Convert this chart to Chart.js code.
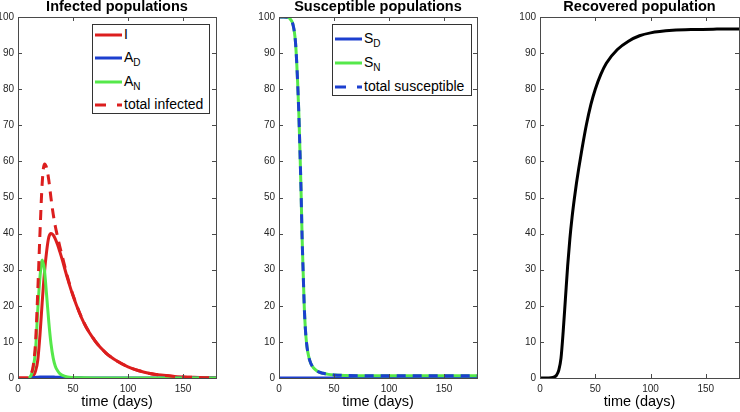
<!DOCTYPE html>
<html>
<head>
<meta charset="utf-8">
<script src="https://cdn.jsdelivr.net/npm/chart.js@4.4.0/dist/chart.umd.min.js"></script>
<style>
  body { margin: 0; background: #fff; font-family: "Liberation Sans", Arial, Helvetica, sans-serif; }
  #wrap { position: relative; width: 740px; height: 412px; overflow: hidden; }
  .panel { position: absolute; top: 0; height: 412px; }
  .ttl { position: absolute; top: -2px; font-weight: bold; font-size: 14.5px; color: #000; text-align: center; white-space: nowrap; }
  .leg { position: absolute; border: 1px solid #333; background: #fff; box-sizing: border-box; }
  .row { position: absolute; left: 2px; height: 16px; font-size: 14px; color: #000; white-space: nowrap; }
  .row svg { position: absolute; left: 0; top: 5px; }
  .row span { position: absolute; left: 29px; top: -1px; }
  sub { font-size: 10px; vertical-align: -4px; line-height: 0; }
</style>
</head>
<body>
<div id="wrap">
  <div class="panel" style="left:0;width:222px"><canvas id="c1"></canvas></div>
  <div class="panel" style="left:250px;width:233px"><canvas id="c2"></canvas></div>
  <div class="panel" style="left:511px;width:229px"><canvas id="c3"></canvas></div>

  <div class="ttl" style="left:18px;width:198px">Infected populations</div>
  <div class="ttl" style="left:279px;width:198px">Susceptible populations</div>
  <div class="ttl" style="left:540px;width:199px">Recovered population</div>

  <div class="leg" style="left:92px;top:24px;width:118px;height:90px">
    <div class="row" style="top:2px"><svg width="28" height="6"><line x1="0" y1="3" x2="27" y2="3" stroke="#dc1e1e" stroke-width="3"/></svg><span>I</span></div>
    <div class="row" style="top:25px"><svg width="28" height="6"><line x1="0" y1="3" x2="27" y2="3" stroke="#1c3fcf" stroke-width="3"/></svg><span>A<sub>D</sub></span></div>
    <div class="row" style="top:49px"><svg width="28" height="6"><line x1="0" y1="3" x2="27" y2="3" stroke="#55e84a" stroke-width="3"/></svg><span>A<sub>N</sub></span></div>
    <div class="row" style="top:72px"><svg width="28" height="6"><line x1="0" y1="3" x2="27" y2="3" stroke="#dc1e1e" stroke-width="3" stroke-dasharray="11 11"/></svg><span>total infected</span></div>
  </div>
  <div class="leg" style="left:332px;top:24px;width:140px;height:72px">
    <div class="row" style="top:6px"><svg width="28" height="6"><line x1="0" y1="3" x2="27" y2="3" stroke="#1c3fcf" stroke-width="3"/></svg><span>S<sub>D</sub></span></div>
    <div class="row" style="top:30px"><svg width="28" height="6"><line x1="0" y1="3" x2="27" y2="3" stroke="#55e84a" stroke-width="3"/></svg><span>S<sub>N</sub></span></div>
    <div class="row" style="top:54px"><svg width="28" height="6"><line x1="0" y1="3" x2="27" y2="3" stroke="#1c3fcf" stroke-width="3" stroke-dasharray="11 11"/></svg><span>total susceptible</span></div>
  </div>
</div>
<script>
// ---- data ----
const xTicks = [0, 50, 100, 150];
const yTicks = [0, 10, 20, 30, 40, 50, 60, 70, 80, 90, 100];

// infected panel
const days1 = [0, 5, 10, 12, 14, 16, 18, 20, 22, 24, 26, 28, 30, 32, 34, 36, 38, 40, 45, 50, 60, 70, 80, 90, 100, 110, 120, 130, 140, 150, 160, 170, 180];
const infI  = [0, 0, 0, 0.2, 0.6, 2, 5, 12, 21, 29, 35, 39, 40, 39.6, 38.5, 36.9, 35, 33, 27.6, 22.8, 15.2, 10.3, 6.9, 4.7, 3.1, 2, 1.25, 0.8, 0.5, 0.3, 0.18, 0.1, 0.06];
const infAD = [null, null, 0, 0.05, 0.1, 0.15, 0.2, 0.25, 0.3, 0.3, 0.3, 0.3, 0.28, 0.26, 0.24, 0.2, 0.18, 0.15, 0.1, 0.06, 0.03, 0.01, 0.01, 0, 0, 0, 0, 0, 0, 0, 0, 0, 0];
const infAN = [null, null, 0, 0.8, 3, 8, 19, 28, 32.7, 30, 23, 15.5, 9.5, 5.5, 3.2, 2, 1.2, 0.8, 0.3, 0.15, 0.05, 0.02, 0.02, 0.01, 0.01, 0, 0, 0, 0, 0, 0, 0, 0];
const infTotal = [0, 0, 0, 1.1, 3.7, 10.2, 24.2, 40.3, 54, 59.3, 58.3, 54.8, 49.8, 45.4, 41.9, 39.1, 36.4, 34, 28, 23, 15.3, 10.3, 6.9, 4.7, 3.1, 2, 1.25, 0.8, 0.5, 0.3, 0.18, 0.1, 0.06];

// susceptible panel
const days2 = [0, 4, 8, 10, 12, 13, 14, 15, 16, 17, 18, 19, 20, 21, 22, 23, 24, 25, 26, 28, 30, 33, 36, 40, 45, 50, 60, 80, 100, 130, 160, 180];
const susSD = [0, 0, 0, 0, 0, 0, 0, 0, 0, 0, 0, 0, 0, 0, 0, 0, 0, 0, 0, 0, 0, 0, 0, 0, 0, 0, 0, 0, 0, 0, 0, 0];
const susSN = [100, 100, 99.9, 99.5, 98.6, 97.5, 95.8, 93, 88, 81.5, 73.5, 63.5, 52.5, 39, 29, 19.5, 13.5, 9.8, 7.5, 4.8, 3.4, 2.3, 1.7, 1.3, 1, 0.85, 0.7, 0.6, 0.6, 0.6, 0.6, 0.6];
const susTotal = [100, 100, 99.9, 99.5, 98.6, 97.5, 95.8, 93, 88, 81.5, 73.5, 63.5, 52.5, 39, 29, 19.5, 13.5, 9.8, 7.5, 4.8, 3.4, 2.3, 1.7, 1.3, 1, 0.85, 0.7, 0.6, 0.6, 0.6, 0.6, 0.6];

// recovered panel
const days3 = [0, 5, 10, 13, 15, 17, 19, 21, 23, 25, 27, 29, 31, 33, 35, 38, 42, 46, 50, 55, 60, 70, 80, 90, 100, 120, 140, 160, 180];
const recR  = [0, 0, 0.05, 0.3, 0.8, 2.2, 5.5, 13, 22, 31, 38.5, 44.5, 49.5, 54, 58, 63.5, 70.2, 75.7, 80, 84.1, 87.2, 91, 93.3, 94.8, 95.6, 96.3, 96.55, 96.65, 96.7];

const RED = '#dc1e1e', BLUE = '#1c3fcf', GREEN = '#55e84a';
const FONT = '"Liberation Sans", Arial, Helvetica, sans-serif';

function pts(xs, ys) {
  return xs.map((x, i) => ({ x: x, y: ys[i] }));
}

function line(data, color, order, dash) {
  return {
    data: data,
    borderColor: color,
    borderWidth: 3,
    borderDash: dash || [],
    pointRadius: 0,
    cubicInterpolationMode: 'monotone',
    fill: false,
    order: order
  };
}

// box around the plot with inward ticks on all four sides
const boxTicks = {
  id: 'boxTicks',
  afterDraw(chart) {
    const ctx = chart.ctx, a = chart.chartArea;
    const xs = chart.scales.x, ys = chart.scales.y;
    ctx.save();
    ctx.strokeStyle = '#4a4a4a';
    ctx.lineWidth = 1;
    ctx.strokeRect(Math.round(a.left) + 0.5, Math.round(a.top) + 0.5, Math.round(a.right - a.left), Math.round(a.bottom - a.top));
    ctx.beginPath();
    xs.ticks.forEach(t => {
      const px = Math.round(xs.getPixelForValue(t.value)) + 0.5;
      ctx.moveTo(px, a.bottom); ctx.lineTo(px, a.bottom - 4);
      ctx.moveTo(px, a.top); ctx.lineTo(px, a.top + 4);
    });
    ys.ticks.forEach(t => {
      const py = Math.round(ys.getPixelForValue(t.value)) + 0.5;
      ctx.moveTo(a.left, py); ctx.lineTo(a.left + 4, py);
      ctx.moveTo(a.right, py); ctx.lineTo(a.right - 4, py);
    });
    ctx.stroke();
    ctx.restore();
  }
};

function makeChart(id, datasets, yWidth, padRight) {
  return new Chart(document.getElementById(id), {
    type: 'line',
    data: { datasets: datasets },
    options: {
      responsive: true,
      maintainAspectRatio: false,
      animation: false,
      devicePixelRatio: 1,
      layout: { padding: { top: 17, right: padRight, bottom: 0, left: 0 } },
      plugins: { legend: { display: false }, tooltip: { enabled: false } },
      scales: {
        x: {
          type: 'linear',
          min: 0, max: 180,
          grid: { display: false, drawTicks: false },
          border: { display: false },
          afterBuildTicks: s => { s.ticks = xTicks.map(v => ({ value: v })); },
          afterFit: s => { s.height = 34; },
          ticks: { padding: 5, color: '#262626', font: { family: FONT, size: 10 }, maxRotation: 0 },
          title: { display: true, text: 'time (days)', color: '#000', font: { family: FONT, size: 14.5 }, padding: { top: 0, bottom: 1 } }
        },
        y: {
          min: 0, max: 100,
          grid: { display: false, drawTicks: false },
          border: { display: false },
          afterBuildTicks: s => { s.ticks = yTicks.map(v => ({ value: v })); },
          afterFit: s => { s.width = yWidth; },
          ticks: { padding: 4, color: '#262626', font: { family: FONT, size: 10 } }
        }
      }
    },
    plugins: [boxTicks]
  });
}

makeChart('c1', [
  line(pts(days1, infI), RED, 3),
  line(pts(days1, infAD), BLUE, 2),
  line(pts(days1, infAN), GREEN, 1),
  line(pts(days1, infTotal), RED, 0, [10, 7])
], 18, 6);

makeChart('c2', [
  line(pts(days2, susSD), BLUE, 2),
  line(pts(days2, susSN), GREEN, 1),
  line(pts(days2, susTotal), BLUE, 0, [9, 7])
], 29, 6);

makeChart('c3', [
  line(pts(days3, recR), '#000', 0)
], 29, 1);
</script>
</body>
</html>
